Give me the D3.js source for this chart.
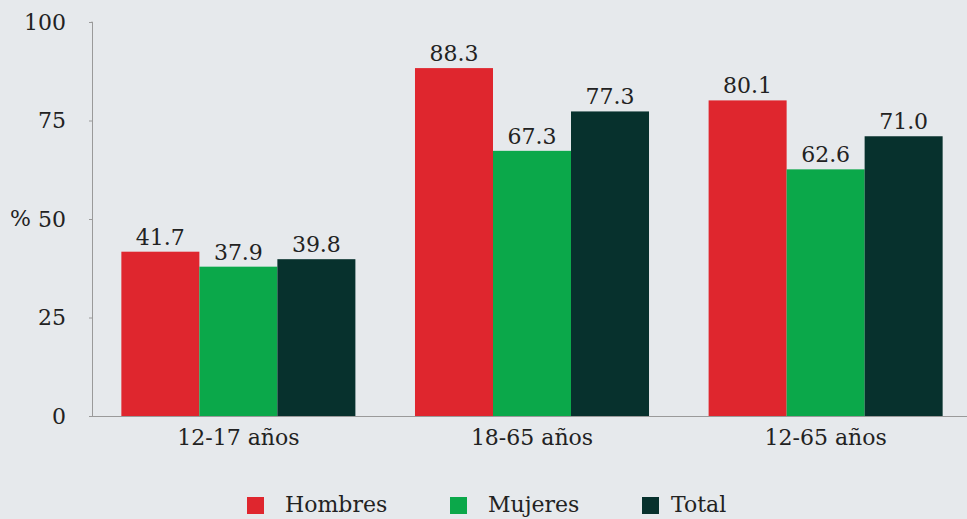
<!DOCTYPE html>
<html><head><meta charset="utf-8">
<script src="https://cdn.jsdelivr.net/npm/d3@7"></script>
<style>body{margin:0;background:#e6e9ec;}svg{display:block;} text{font-family:"DejaVu Serif", "Liberation Serif", serif;}</style>
</head><body>
<svg id="c" width="967" height="519"></svg>
<script>
const categories = ["12-17 años", "18-65 años", "12-65 años"];
const seriesNames = ["Hombres", "Mujeres", "Total"];
const hombres = [41.7, 88.3, 80.1];
const mujeres = [37.9, 67.3, 62.6];
const total = [39.8, 77.3, 71.0];
const yTicks = [0, 25, 50, 75, 100];
const colors = ["#df262e", "#0ba84a", "#07312d"];

(function () {
const series = [hombres, mujeres, total];
const svg = d3.select("#c");
const mLeft = 92, mRight = 972, mTop = 22, mBottom = 416;
const fs = 22;

const y = d3.scaleLinear().domain([0, 100]).range([mBottom, mTop]);
const x0 = d3.scaleBand().domain(categories).range([mLeft, mRight]).paddingInner(0.203).paddingOuter(0.1);
const x1 = d3.scaleBand().domain(seriesNames).range([0, x0.bandwidth()]);

// y axis
const yAxis = d3.axisLeft(y).tickValues(yTicks).tickSize(3).tickPadding(23).tickFormat(d3.format("d"));
const gy = svg.append("g").attr("transform", `translate(${mLeft},0)`).call(yAxis);
gy.attr("font-family", null).attr("font-size", null);
gy.select(".domain").attr("stroke", "#9a9a9a").attr("d", `M-0.5,${mTop}H0.5V${mBottom}`);
gy.selectAll(".tick line").attr("stroke", "#9a9a9a");
gy.selectAll("text").attr("font-size", fs).attr("fill", "#222").attr("dy", "0.33em");
svg.append("text").attr("x", 10).attr("y", y(50)).attr("dy", "0.33em").attr("font-size", fs).attr("fill", "#222").text("%");

// x axis
svg.append("line").attr("x1", mLeft).attr("x2", 967).attr("y1", mBottom + 0.5).attr("y2", mBottom + 0.5).attr("stroke", "#9a9a9a");
svg.append("g").selectAll("text").data(categories).join("text")
  .attr("x", d => x0(d) + x0.bandwidth() / 2).attr("y", 445)
  .attr("text-anchor", "middle").attr("font-size", fs).attr("fill", "#222")
  .text(d => d);

// bars
const groups = svg.append("g").selectAll("g").data(categories).join("g")
  .attr("transform", d => `translate(${x0(d)},0)`);
groups.each(function(cat, ci) {
  const g = d3.select(this);
  seriesNames.forEach((s, si) => {
    const v = series[si][ci];
    g.append("rect").attr("x", x1(s)).attr("width", x1.bandwidth()).attr("y", y(v)).attr("height", mBottom - y(v)).attr("fill", colors[si]);
    g.append("text").attr("x", x1(s) + x1.bandwidth() / 2).attr("y", y(v) - 7)
      .attr("text-anchor", "middle").attr("font-size", fs).attr("fill", "#222")
      .text(d3.format(".1f")(v));
  });
});

// legend
const legX = [247, 450, 642];
const legT = [38, 38, 29];
const lg = svg.append("g").selectAll("g").data(seriesNames).join("g")
  .attr("transform", (d, i) => `translate(${legX[i]},497)`);
lg.append("rect").attr("width", 17).attr("height", 17).attr("fill", (d, i) => colors[i]);
lg.append("text").attr("x", (d, i) => legT[i]).attr("y", 15).attr("font-size", 22).attr("fill", "#222").text(d => d);
})();
</script>
</body></html>
